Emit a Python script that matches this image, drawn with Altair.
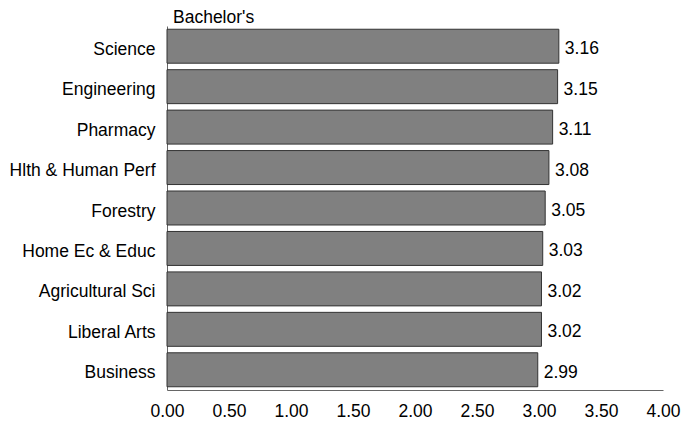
import altair as alt
import pandas as pd

categories = ["Science", "Engineering", "Pharmacy", "Hlth & Human Perf", "Forestry",
              "Home Ec & Educ", "Agricultural Sci", "Liberal Arts", "Business"]
values = [3.16, 3.15, 3.11, 3.08, 3.05, 3.03, 3.02, 3.02, 2.99]
x_ticks = [0.0, 0.5, 1.0, 1.5, 2.0, 2.5, 3.0, 3.5, 4.0]

df = pd.DataFrame({"college": categories, "gpa": values})
df["label"] = df["gpa"].map(lambda v: f"{v:.2f}")

FONT = "Liberation Sans"
FS = 17.5

y_enc = alt.Y("college:N", sort=categories, title=None,
              scale=alt.Scale(paddingInner=0.16, paddingOuter=0.08),
              axis=alt.Axis(ticks=False, domainColor="#666666", labelFont=FONT,
                            labelFontSize=FS, labelColor="#000000", labelPadding=12,
                            labelOffset=3.5))
x_enc = alt.X("gpa:Q", title=None,
              scale=alt.Scale(domain=[0, 4], nice=False),
              axis=alt.Axis(values=x_ticks, format=".2f", ticks=False, grid=False,
                            domainColor="#666666", labelFont=FONT, labelFontSize=FS,
                            labelColor="#000000", labelPadding=12, labelFlush=False))

bars = alt.Chart(df).mark_bar(color="#808080", stroke="#333333", strokeWidth=1).encode(
    y=y_enc, x=x_enc)

texts = alt.Chart(df).mark_text(align="left", baseline="middle", dx=6, dy=3,
                                font=FONT, fontSize=FS, color="#000000").encode(
    y=alt.Y("college:N", sort=categories), x=alt.X("gpa:Q"), text="label:N")

chart = (bars + texts).properties(
    width=496, height=364,
    title=alt.TitleParams("Bachelor's", anchor="start", frame="group", font=FONT,
                          fontSize=FS, fontWeight="normal", color="#000000",
                          dx=6, dy=6, offset=6),
    autosize=alt.AutoSizeParams(type="none"),
    padding={"left": 159, "top": 18, "right": 18, "bottom": 30},
).configure_view(stroke=None)

chart.save("out.html", embed_options={"renderer": "svg", "actions": False})
